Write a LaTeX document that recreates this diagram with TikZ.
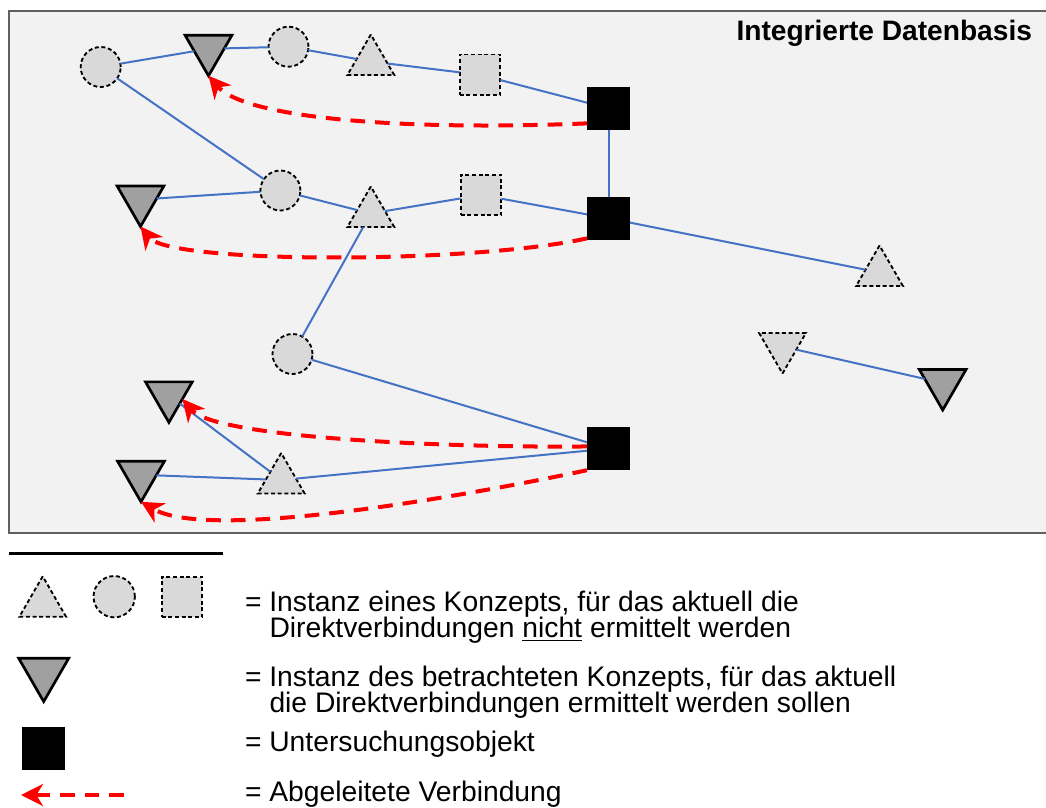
\documentclass[tikz,border=0pt]{standalone}
\usepackage{fontspec}
\setmainfont{Liberation Sans}
\usetikzlibrary{shapes.geometric,arrows.meta}
\definecolor{bgfill}{HTML}{F2F2F2}
\definecolor{boxline}{HTML}{606060}
\definecolor{lightfill}{HTML}{D9D9D9}
\definecolor{darkfill}{HTML}{A0A0A0}
\definecolor{linkblue}{HTML}{4472C4}
\definecolor{derivred}{HTML}{FF0000}
\begin{document}
\begin{tikzpicture}[x=0.75pt,y=-0.75pt,
  every node/.style={inner sep=0pt,outer sep=0pt},
  lightbase/.style={fill=lightfill,draw=black,line width=1.4pt,dash pattern=on 3pt off 2pt},
  lcirc/.style={lightbase,circle,minimum size=30pt},
  lsq/.style={lightbase,rectangle,minimum size=30.5pt},
  ltri/.style={lightbase,regular polygon,regular polygon sides=3,minimum size=40.5pt},
  ltridown/.style={ltri,shape border rotate=180},
  gtri/.style={fill=darkfill,draw=black,line width=2pt,regular polygon,regular polygon sides=3,shape border rotate=180,minimum size=40.5pt},
  bsq/.style={fill=black,rectangle,minimum size=32.3pt},
  link/.style={draw=linkblue,line width=1.5pt},
  derived/.style={draw=derivred,line width=3pt,dash pattern=on 11pt off 7.5pt,-{Stealth[length=16.5pt,width=16.5pt,inset=5pt]}},
  lbl/.style={anchor=base west,font=\fontsize{21.2}{19.5}\selectfont},
]
\useasboundingbox (0,0) rectangle (1046,807);
\draw[draw=boxline,line width=1.3pt,fill=bgfill] (9,10.7) rectangle (1060,533.3);
\node[anchor=base east,font=\bfseries\fontsize{21.1}{24}\selectfont] (title) at (1032,40.7) {Integrierte Datenbasis};

% nodes
\node[lcirc] (c1) at (100.7,67) {};
\node[gtri] (t1) at (208.5,48.8) {};
\node[lcirc] (c2) at (288.5,46.7) {};
\node[ltri] (u1) at (370.8,61.5) {};
\node[lsq] (s1) at (480,74.8) {};
\node[bsq] (B1) at (608.5,108.3) {};
\node[gtri] (t2) at (140.5,199.5) {};
\node[lcirc] (c3) at (280.4,190.5) {};
\node[ltri] (u2) at (370.8,213.5) {};
\node[lsq] (s2) at (481,195) {};
\node[bsq] (B2) at (608.5,218.3) {};
\node[ltri] (u3) at (879.5,272.5) {};
\node[lcirc] (c4) at (292.5,354) {};
\node[ltridown] (d1) at (782.5,346.5) {};
\node[gtri] (t3) at (942.7,383) {};
\node[gtri] (t4) at (168.9,395.4) {};
\node[ltri] (u4) at (281.2,480) {};
\node[gtri] (t5) at (141,474.8) {};
\node[bsq] (B3) at (608.4,448.7) {};

% links
\draw[link] (c1) -- (t1);
\draw[link] (t1) -- (c2);
\draw[link] (c2) -- (u1);
\draw[link] (u1) -- (s1);
\draw[link] (s1) -- (B1);
\draw[link] (c1) -- (c3);
\draw[link] (B1) -- (B2);
\draw[link] (t2) -- (c3);
\draw[link] (c3) -- (u2);
\draw[link] (u2) -- (s2);
\draw[link] (s2) -- (B2);
\draw[link] (B2) -- (u3);
\draw[link] (u2) -- (c4);
\draw[link] (c4) -- (B3);
\draw[link] (d1) -- (t3);
\draw[link] (t4) -- (u4);
\draw[link] (t5) -- (u4);
\draw[link] (u4) -- (B3);

% derived connections
\draw[derived] (B1.215) .. controls (400,131) and (245,118) .. (t1.corner 1);
\draw[derived] (B2.223) .. controls (470,264) and (170,264) .. (t2.corner 1);
\draw[derived] (B3.174) .. controls (450,448) and (215,438) .. (t4.-15);
\draw[derived] (B3.south west) .. controls (470,495) and (210,542) .. (t5.corner 1);

% legend
\draw[line width=2.2pt] (9,553.3) -- (223,553.3);
\node[ltri] (lu) at (42.7,603.3) {};
\node[lcirc,minimum size=31pt] (lc) at (114.2,596.7) {};
\node[lsq] (ls) at (182,597) {};
\node[gtri,minimum size=43.3pt] (lt) at (43.7,672.7) {};
\node[bsq] (lb) at (43.4,748.5) {};
\coordinate (la1) at (124,795);
\coordinate (la2) at (21,795);
\draw[derived] (la1) -- (la2);

\node[lbl] (l1a) at (245,611.7) {= Instanz eines Konzepts, für das aktuell die};
\node[lbl] (l1b) at (269.5,637.7) {Direktverbindungen \underline{nicht} ermittelt werden};
\node[lbl] (l2a) at (245,686) {= Instanz des betrachteten Konzepts, für das aktuell};
\node[lbl] (l2b) at (269.5,712.5) {die Direktverbindungen ermittelt werden sollen};
\node[lbl] (l3) at (245,751.5) {= Untersuchungsobjekt};
\node[lbl] (l4) at (245,801) {= Abgeleitete Verbindung};
\end{tikzpicture}
\end{document}
